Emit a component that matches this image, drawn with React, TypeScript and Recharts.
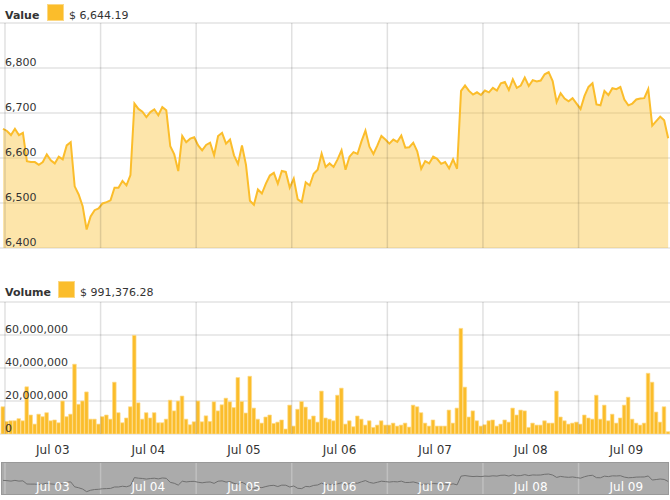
import { AreaChart, Area, BarChart, Bar, LineChart, Line, XAxis, YAxis, CartesianGrid, ReferenceLine } from 'recharts';

const days = ['Jul 03', 'Jul 04', 'Jul 05', 'Jul 06', 'Jul 07', 'Jul 08', 'Jul 09'];

// hourly value, first point half an hour before Jul 03 00:00
const price = [
  6665, 6660, 6651, 6665, 6651, 6656, 6593, 6591, 6591, 6585, 6591, 6608,
  6595, 6588, 6603, 6597, 6628, 6635, 6537, 6519, 6493, 6441, 6470, 6484,
  6488, 6499, 6502, 6506, 6534, 6534, 6549, 6539, 6562, 6721, 6709, 6703,
  6691, 6702, 6708, 6695, 6713, 6706, 6626, 6608, 6571, 6649, 6635, 6643,
  6646, 6628, 6617, 6629, 6634, 6606, 6649, 6656, 6632, 6641, 6606, 6587,
  6628, 6585, 6505, 6496, 6530, 6521, 6543, 6561, 6567, 6543, 6571, 6569,
  6534, 6554, 6508, 6502, 6546, 6539, 6565, 6574, 6610, 6580, 6588, 6580,
  6597, 6617, 6574, 6603, 6613, 6609, 6637, 6661, 6625, 6609, 6628, 6649,
  6641, 6632, 6641, 6636, 6650, 6623, 6624, 6634, 6615, 6576, 6593, 6588,
  6603, 6598, 6587, 6591, 6577, 6597, 6576, 6749, 6761, 6749, 6741, 6746,
  6740, 6750, 6746, 6756, 6750, 6766, 6769, 6751, 6775, 6756, 6761, 6779,
  6760, 6773, 6770, 6772, 6786, 6791, 6771, 6724, 6744, 6732, 6726, 6733,
  6721, 6709, 6738, 6758, 6766, 6719, 6717, 6749, 6740, 6755, 6753, 6758,
  6730, 6717, 6721, 6730, 6732, 6733, 6753, 6672, 6682, 6692, 6684, 6644,
];

// hourly volume in millions
const volumeM = [
  16.5, 7.6, 8, 8, 9.3, 8, 28.6, 11.5, 6, 12, 10.5, 12.9,
  8, 8.5, 6.8, 20, 10.5, 12, 42.3, 18, 20, 25.5, 9, 9,
  6, 10.5, 11.5, 9, 31.4, 12.9, 6.8, 9.7, 16.5, 59.8, 18.9, 9,
  12.9, 9.7, 12.9, 6.8, 6.8, 9, 20.5, 14, 20, 23, 9, 5.6,
  7.4, 20, 7.4, 11, 7.6, 19.5, 14, 17.7, 21.7, 19.5, 16, 34.2,
  19.7, 12.7, 35, 15.7, 9, 6.6, 10.3, 11.5, 6.4, 7.2, 8.5, 3,
  17.5, 4.8, 15, 19.7, 16.3, 8.9, 10.9, 7.2, 26, 9.7, 9, 8,
  23.5, 27.8, 6, 8, 4.4, 10.9, 9, 5.4, 8, 4, 5.4, 8,
  5.4, 5.4, 6.6, 4.8, 5.4, 6.6, 4.2, 17.5, 16.5, 12.9, 6.6, 4.8,
  8.5, 4.8, 4.8, 4.8, 14.5, 6.6, 15.7, 64, 28.4, 10.3, 14, 8,
  4.8, 5.6, 8, 8.5, 4.8, 6, 8.5, 7.2, 15.7, 11.5, 14.5, 14,
  4, 6.6, 5.4, 5.4, 8, 6.6, 6.6, 26, 10.3, 8, 6, 6.6,
  7.2, 6, 11.5, 9.7, 9, 23.5, 9, 17.5, 8, 12, 6.6, 9.7,
  17.5, 22.3, 9, 6.6, 5.4, 6.6, 36.8, 31.4, 13.3, 7.2, 16.5, 1.4,
];

const priceTicks = [6400, 6500, 6600, 6700, 6800, 6900];
const volumeTicks = [0, 20000000, 40000000, 60000000, 80000000];

const lastValue = '$ 6,644.19';
const lastVolume = '$ 991,376.28';

const data = price.map((p, i) => ({ hour: i, price: p, volume: volumeM[i] * 1e6 }));

const xDomain = [-0.75, 167.46];
const dayStart = days.map((_, k) => 0.5 + 24 * k);
const dayMid = days.map((_, k) => 12.5 + 24 * k);
const dayLabel = (v: number) => days[Math.round((v - 12.5) / 24)];

const FONT = '"DejaVu Sans", Verdana, sans-serif';
const GOLD = '#FBBD2B';
const GRID = '#e3e3e3';

const yTick = (top: number) => (props: any) => {
  const { y, payload } = props;
  if (payload.value === top) return <g />;
  return (
    <text x={5} y={y - 2} fontSize={11} fill="#333" fontFamily={FONT}>
      {Number(payload.value).toLocaleString('en-US')}
    </text>
  );
};

const xTick = (baseline: number, color: string) => (props: any) => (
  <text x={props.x} y={baseline} textAnchor="middle" fontSize={12} fill={color} fontFamily={FONT}>
    {dayLabel(props.payload.value)}
  </text>
);

function Header({ title, value, swatchX, baseline }: { title: string; value: string; swatchX: number; baseline: number }) {
  return (
    <svg width={300} height={24} style={{ position: 'absolute', left: 0, top: baseline - 19 }}>
      <text x={5} y={19} fontSize={11} fontWeight="bold" fill="#333" fontFamily={FONT}>{title}</text>
      <rect x={swatchX + 0.5} y={4.5} width={16} height={16} fill={GOLD} stroke="#FCD883" />
      <text x={swatchX + 22} y={19} fontSize={11} fill="#333" fontFamily={FONT}>{value}</text>
    </svg>
  );
}

const dayLines = (color: string, opacity: number) =>
  dayStart.map((d) => (
    <ReferenceLine key={d} x={d} stroke={color} strokeOpacity={opacity} strokeWidth={1.5} />
  ));

export default function App() {
  return (
    <div style={{ position: 'relative', width: 670, height: 500, overflow: 'hidden', fontFamily: FONT }}>
      <style>{'body{margin:0}'}</style>

      <Header title="Value" value={lastValue} swatchX={47} baseline={19} />
      <div style={{ position: 'absolute', left: 0, top: 0 }}>
        <AreaChart width={670} height={250} data={data} margin={{ top: 23, right: 0, bottom: 2, left: 0 }}>
          <CartesianGrid vertical={false} stroke={GRID} strokeWidth={1.5} />
          {dayLines('#000', 0.12)}
          <XAxis dataKey="hour" type="number" domain={xDomain} allowDataOverflow hide />
          <YAxis
            type="number"
            domain={[6400, 6900]}
            allowDataOverflow
            ticks={priceTicks}
            interval={0}
            mirror
            axisLine={false}
            tickLine={false}
            tick={yTick(6900)}
          />
          <Area
            dataKey="price"
            type="linear"
            stroke={GOLD}
            strokeWidth={2}
            fill={GOLD}
            fillOpacity={0.4}
            dot={false}
            activeDot={false}
            isAnimationActive={false}
          />
        </AreaChart>
      </div>

      <Header title="Volume" value={lastVolume} swatchX={58} baseline={296} />
      <div style={{ position: 'absolute', left: 0, top: 300 }}>
        <BarChart width={670} height={160} data={data} margin={{ top: 2, right: 0, bottom: 0, left: 0 }}>
          <CartesianGrid vertical={false} stroke={GRID} strokeWidth={1.5} />
          {dayLines('#000', 0.12)}
          <XAxis
            dataKey="hour"
            type="number"
            domain={xDomain}
            allowDataOverflow
            ticks={dayMid}
            interval={0}
            axisLine={false}
            tickLine={false}
            height={26}
            tick={xTick(153.5, '#333')}
          />
          <YAxis
            type="number"
            domain={[0, 80000000]}
            allowDataOverflow
            ticks={volumeTicks}
            interval={0}
            mirror
            axisLine={false}
            tickLine={false}
            tick={yTick(80000000)}
          />
          <Bar
            dataKey="volume"
            fill={GOLD}
            stroke="#FDDB8A"
            strokeWidth={0.7}
            barSize={3.6}
            isAnimationActive={false}
          />
        </BarChart>
      </div>

      <div
        style={{
          position: 'absolute',
          left: 1,
          top: 462,
          width: 668,
          height: 33,
          background: '#ababab',
          border: '1px solid #999',
          boxSizing: 'border-box',
        }}
      />
      <div style={{ position: 'absolute', left: 0, top: 463 }}>
        <LineChart width={670} height={31} data={data} margin={{ top: 0, right: 0, bottom: 0, left: 0 }}>
          {dayLines('#fff', 0.25)}
          <YAxis hide domain={[6395, 7010]} allowDataOverflow />
          <Line
            dataKey="price"
            type="linear"
            stroke="#707070"
            strokeWidth={1}
            dot={false}
            activeDot={false}
            isAnimationActive={false}
          />
          <XAxis
            dataKey="hour"
            type="number"
            domain={xDomain}
            allowDataOverflow
            ticks={dayMid}
            interval={0}
            mirror
            axisLine={false}
            tickLine={false}
            tick={xTick(27.7, '#fff')}
          />
        </LineChart>
      </div>
    </div>
  );
}
